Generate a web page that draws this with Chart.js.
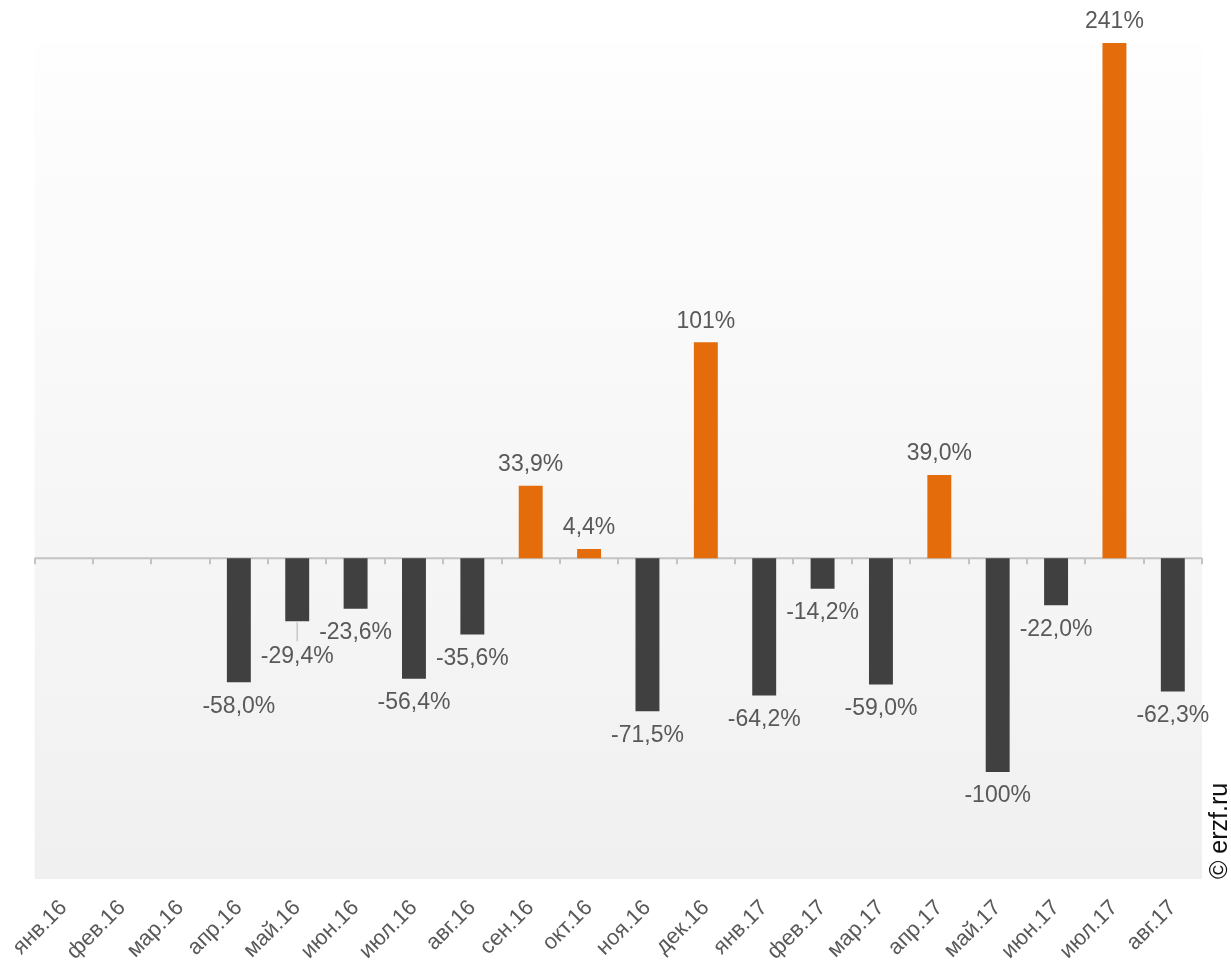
<!DOCTYPE html>
<html lang="ru">
<head>
<meta charset="utf-8">
<title>Изменение, %</title>
<script src="https://cdn.jsdelivr.net/npm/chart.js@4.4.0/dist/chart.umd.min.js"></script>
<style>
  html, body { margin: 0; padding: 0; background: #fff; }
  #wrap { width: 1231px; height: 962px; }
</style>
</head>
<body>
<div id="wrap"><canvas id="chart" width="1231" height="962"></canvas></div>
<script>
// ===== Данные =====
const months = [
  "янв.16", "фев.16", "мар.16", "апр.16", "май.16", "июн.16", "июл.16", "авг.16",
  "сен.16", "окт.16", "ноя.16", "дек.16", "янв.17", "фев.17", "мар.17", "апр.17",
  "май.17", "июн.17", "июл.17", "авг.17"
];
const changes = [
  null, null, null, -58.0, -29.4, -23.6, -56.4, -35.6,
  33.9, 4.4, -71.5, 101, -64.2, -14.2, -59.0, 39.0,
  -100, -22.0, 241, -62.3
];

// ===== Стиль =====
const UP = "#e46c0a";
const DOWN = "#404040";
const TEXT = "#595959";
const FONT = "'Liberation Sans', Arial, sans-serif";

function fmt(v) {
  const s = Math.abs(v) >= 100 ? v.toFixed(0) : v.toFixed(1);
  return s.replace('.', ',') + '%';
}

// метка май.16 сдвинута вниз с выноской
const labelShift = { 4: 12 };

const decor = {
  id: 'decor',
  beforeDraw(chart) {
    const { ctx, chartArea: a } = chart;
    const g = ctx.createLinearGradient(0, a.top, 0, a.bottom);
    g.addColorStop(0, "#fefefe");
    g.addColorStop(1, "#f0f0f0");
    ctx.save();
    ctx.fillStyle = g;
    ctx.fillRect(a.left, a.top, a.right - a.left, a.bottom - a.top);
    ctx.restore();
  },
  beforeDatasetsDraw(chart) {
    const { ctx, chartArea: a, scales } = chart;
    const y0 = scales.y.getPixelForValue(0);
    const n = months.length;
    const step = (a.right - a.left) / n;
    ctx.save();
    ctx.strokeStyle = "#c3c3c3";
    ctx.lineWidth = 2;
    ctx.beginPath();
    ctx.moveTo(a.left, y0);
    ctx.lineTo(a.right, y0);
    for (let i = 0; i <= n; i++) {
      const x = Math.round(a.left + i * step);
      ctx.moveTo(x, y0);
      ctx.lineTo(x, y0 + 6);
    }
    ctx.stroke();
    ctx.restore();
  },
  afterDatasetsDraw(chart) {
    const { ctx, chartArea: a } = chart;
    const meta = chart.getDatasetMeta(0);
    ctx.save();
    ctx.font = `23px ${FONT}`;
    ctx.fillStyle = TEXT;
    ctx.textAlign = "center";
    ctx.textBaseline = "middle";
    meta.data.forEach((bar, i) => {
      const v = changes[i];
      if (v === null || v === undefined) return;
      const extra = labelShift[i] || 0;
      const y = v >= 0 ? bar.y - 21 : bar.y + 24 + extra;
      if (extra) {
        ctx.strokeStyle = "#c8c8c8";
        ctx.lineWidth = 1.5;
        ctx.beginPath();
        ctx.moveTo(bar.x, bar.y + 1);
        ctx.lineTo(bar.x, y - 16);
        ctx.stroke();
      }
      ctx.fillText(fmt(v), bar.x, y);
    });

    // ===== © erzf.ru =====
    ctx.translate(a.right + 18, a.bottom);
    ctx.rotate(-Math.PI / 2);
    ctx.font = `25px ${FONT}`;
    ctx.fillStyle = "#111";
    ctx.textAlign = "left";
    ctx.textBaseline = "middle";
    ctx.fillText("© erzf.ru", 0, 0);
    ctx.restore();
  }
};

new Chart(document.getElementById("chart").getContext("2d"), {
  type: "bar",
  data: {
    labels: months,
    datasets: [{
      data: changes,
      backgroundColor: changes.map(v => (v !== null && v >= 0) ? UP : DOWN),
      borderWidth: 0,
      barPercentage: 0.41,
      categoryPercentage: 1
    }]
  },
  options: {
    responsive: false,
    animation: false,
    layout: { padding: { left: 33, right: 29, top: 43, bottom: 0 } },
    plugins: {
      legend: { display: false },
      tooltip: { enabled: false }
    },
    scales: {
      x: {
        grid: { display: false, drawTicks: false },
        border: { display: false },
        ticks: {
          minRotation: 45,
          maxRotation: 45,
          padding: 16,
          color: TEXT,
          font: { family: FONT, size: 22 }
        },
        afterFit: s => { s.height = 83; }
      },
      y: {
        display: false,
        min: -150,
        max: 241
      }
    }
  },
  plugins: [decor]
});
</script>
</body>
</html>
